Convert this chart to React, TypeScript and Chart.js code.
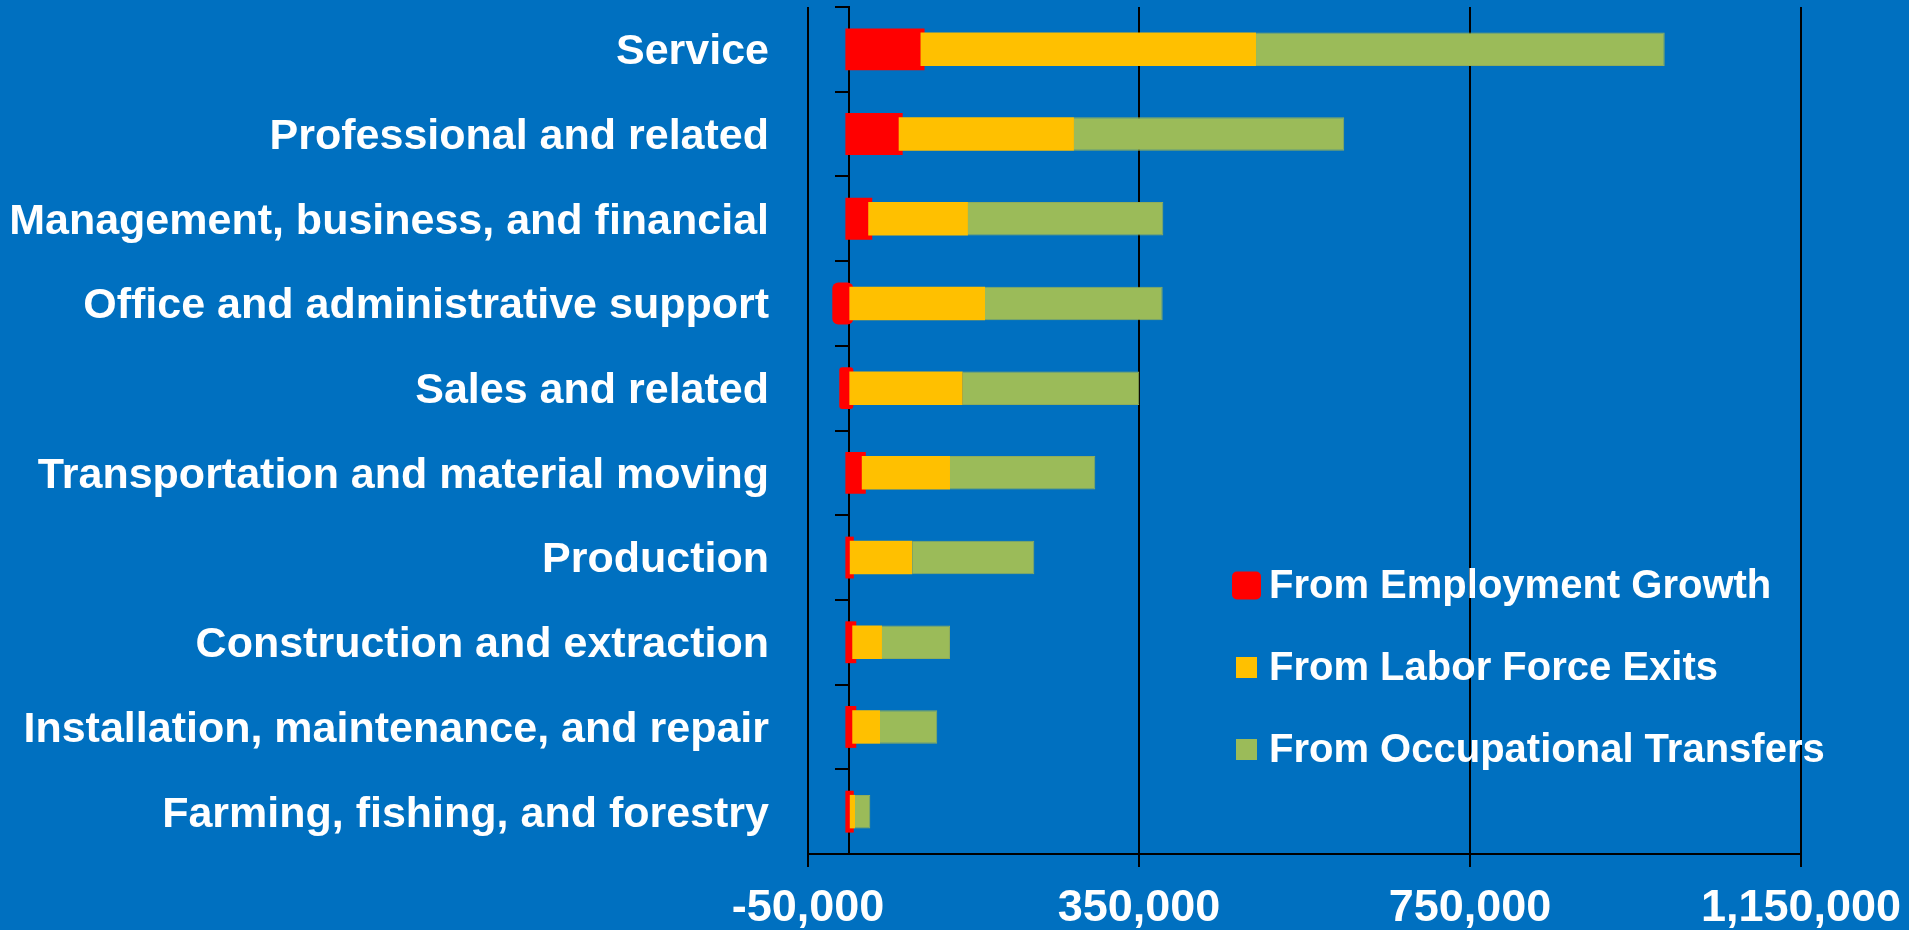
import React, { useEffect, useRef } from 'react';
import { Chart, registerables } from 'chart.js';

Chart.register(...registerables);

const categories = [
  'Service',
  'Professional and related',
  'Management, business, and financial',
  'Office and administrative support',
  'Sales and related',
  'Transportation and material moving',
  'Production',
  'Construction and extraction',
  'Installation, maintenance, and repair',
  'Farming, fishing, and forestry',
];

const seriesNames = ['From Employment Growth', 'From Labor Force Exits', 'From Occupational Transfers'];

const employmentGrowth = [86000, 59600, 22800, -15800, -7400, 15000, 500, 3500, 3500, 500];
const laborForceExits = [405400, 211800, 120500, 163900, 136900, 106600, 75500, 35900, 33500, 6300];
const occupationalTransfers = [493900, 326600, 236100, 214700, 213400, 175600, 147500, 82200, 69200, 18500];

const xTickValues = [-50000, 350000, 750000, 1150000];

const FAMILY = "'Liberation Sans', Arial, sans-serif";
const RED = '#FF0000';
const YELLOW = '#FFC000';
const GREEN = '#9BBB59';
const BG = '#0070C0';

// draw the red (first) series underneath the others
const redUnderPlugin = {
  id: 'redUnder',
  beforeDatasetsDraw(chart: any) {
    const meta = chart.getDatasetMeta(0);
    if (meta && !meta.hidden && meta.controller) {
      meta.controller.draw();
    }
  },
  beforeDatasetDraw(chart: any, args: any) {
    if (args.index === 0) return false;
    return true;
  },
};

const legendPlugin = {
  id: 'insideLegend',
  afterDatasetsDraw(chart: any) {
    const ctx = chart.ctx as CanvasRenderingContext2D;
    const ds = chart.data.datasets;
    const boxes = [
      { x: 1232, y: 571.5, w: 29, h: 28, r: 5 },
      { x: 1236, y: 657, w: 21, h: 21, r: 0 },
      { x: 1236, y: 739, w: 21, h: 21, r: 0 },
    ];
    const baselines = [598, 680, 762];
    ctx.save();
    ctx.font = `bold 40px ${FAMILY}`;
    ctx.textAlign = 'left';
    ctx.textBaseline = 'alphabetic';
    ds.forEach((d: any, i: number) => {
      const b = boxes[i];
      ctx.fillStyle = d.backgroundColor;
      ctx.beginPath();
      if (b.r > 0 && (ctx as any).roundRect) (ctx as any).roundRect(b.x, b.y, b.w, b.h, b.r);
      else ctx.rect(b.x, b.y, b.w, b.h);
      ctx.fill();
      ctx.fillStyle = '#FFFFFF';
      ctx.fillText(d.label, 1269, baselines[i]);
    });
    ctx.restore();
  },
};

export default function App() {
  const ref = useRef<HTMLCanvasElement>(null);

  useEffect(() => {
    document.body.style.margin = '0';
    if (!ref.current) return;
    const chart = new Chart(ref.current, {
      type: 'bar',
      data: {
        labels: categories,
        datasets: [
          {
            label: seriesNames[0],
            data: employmentGrowth,
            backgroundColor: RED,
            borderWidth: 0,
            borderRadius: 6,
            borderSkipped: false,
            inflateAmount: 4,
            barPercentage: 0.4,
            categoryPercentage: 1,
            yAxisID: 'y',
            xAxisID: 'x',
          } as any,
          {
            label: seriesNames[1],
            data: laborForceExits,
            backgroundColor: YELLOW,
            borderWidth: 0,
            barPercentage: 0.395,
            categoryPercentage: 1,
            yAxisID: 'y',
            xAxisID: 'x',
          } as any,
          {
            label: seriesNames[2],
            data: occupationalTransfers,
            backgroundColor: GREEN,
            borderColor: '#8FAD5C',
            borderWidth: 1,
            barPercentage: 0.395,
            categoryPercentage: 1,
            yAxisID: 'y',
            xAxisID: 'x',
          } as any,
        ],
      },
      options: {
        indexAxis: 'y',
        animation: false,
        responsive: false,
        maintainAspectRatio: false,
        layout: { padding: { top: 7, right: 108, left: 0, bottom: 0 } },
        plugins: {
          legend: { display: false },
          tooltip: { enabled: false },
        },
        scales: {
          x: {
            type: 'linear',
            stacked: true,
            min: -50000,
            max: 1150000,
            z: 1,
            afterBuildTicks: (s: any) => {
              s.ticks = xTickValues.map((v) => ({ value: v }));
            },
            afterFit: (s: any) => {
              s.height = 76;
              s.paddingLeft = 0;
              s.paddingRight = 0;
            },
            grid: {
              color: '#000000',
              lineWidth: 2,
              drawOnChartArea: true,
              drawTicks: true,
              tickLength: 13,
              tickColor: '#000000',
              tickWidth: 2,
            },
            border: { display: true, color: '#000000', width: 2 },
            ticks: {
              color: '#FFFFFF',
              font: { family: FAMILY, size: 45, weight: 'bold' },
              padding: 15,
              maxRotation: 0,
              autoSkip: false,
              callback: (v: any) => Number(v).toLocaleString('en-US'),
            },
          },
          y: {
            type: 'category',
            stacked: true,
            position: 'left',
            afterFit: (s: any) => {
              s.width = 808;
              s.paddingTop = 0;
              s.paddingBottom = 0;
            },
            grid: { display: false, drawTicks: false },
            border: { display: false },
            ticks: {
              color: '#FFFFFF',
              font: { family: FAMILY, size: 43, weight: 'bold' },
              padding: 39,
              labelOffset: 3,
              autoSkip: false,
            },
          },
          y2: {
            type: 'category',
            axis: 'y',
            position: { x: 0 },
            z: 1,
            offset: true,
            grid: {
              offset: true,
              display: true,
              drawOnChartArea: false,
              drawTicks: true,
              tickLength: 13,
              tickColor: '#000000',
              tickWidth: 2,
              color: '#000000',
              lineWidth: 2,
            },
            border: { display: true, color: '#000000', width: 2 },
            ticks: { display: false },
          } as any,
        },
      } as any,
      plugins: [redUnderPlugin, legendPlugin],
    });
    return () => chart.destroy();
  }, []);

  return (
    <div
      style={{
        position: 'fixed',
        left: 0,
        top: 0,
        width: 1909,
        height: 930,
        background: BG,
        overflow: 'hidden',
      }}
    >
      <canvas ref={ref} width={1909} height={930} style={{ display: 'block', width: '1909px', height: '930px' }} />
    </div>
  );
}
